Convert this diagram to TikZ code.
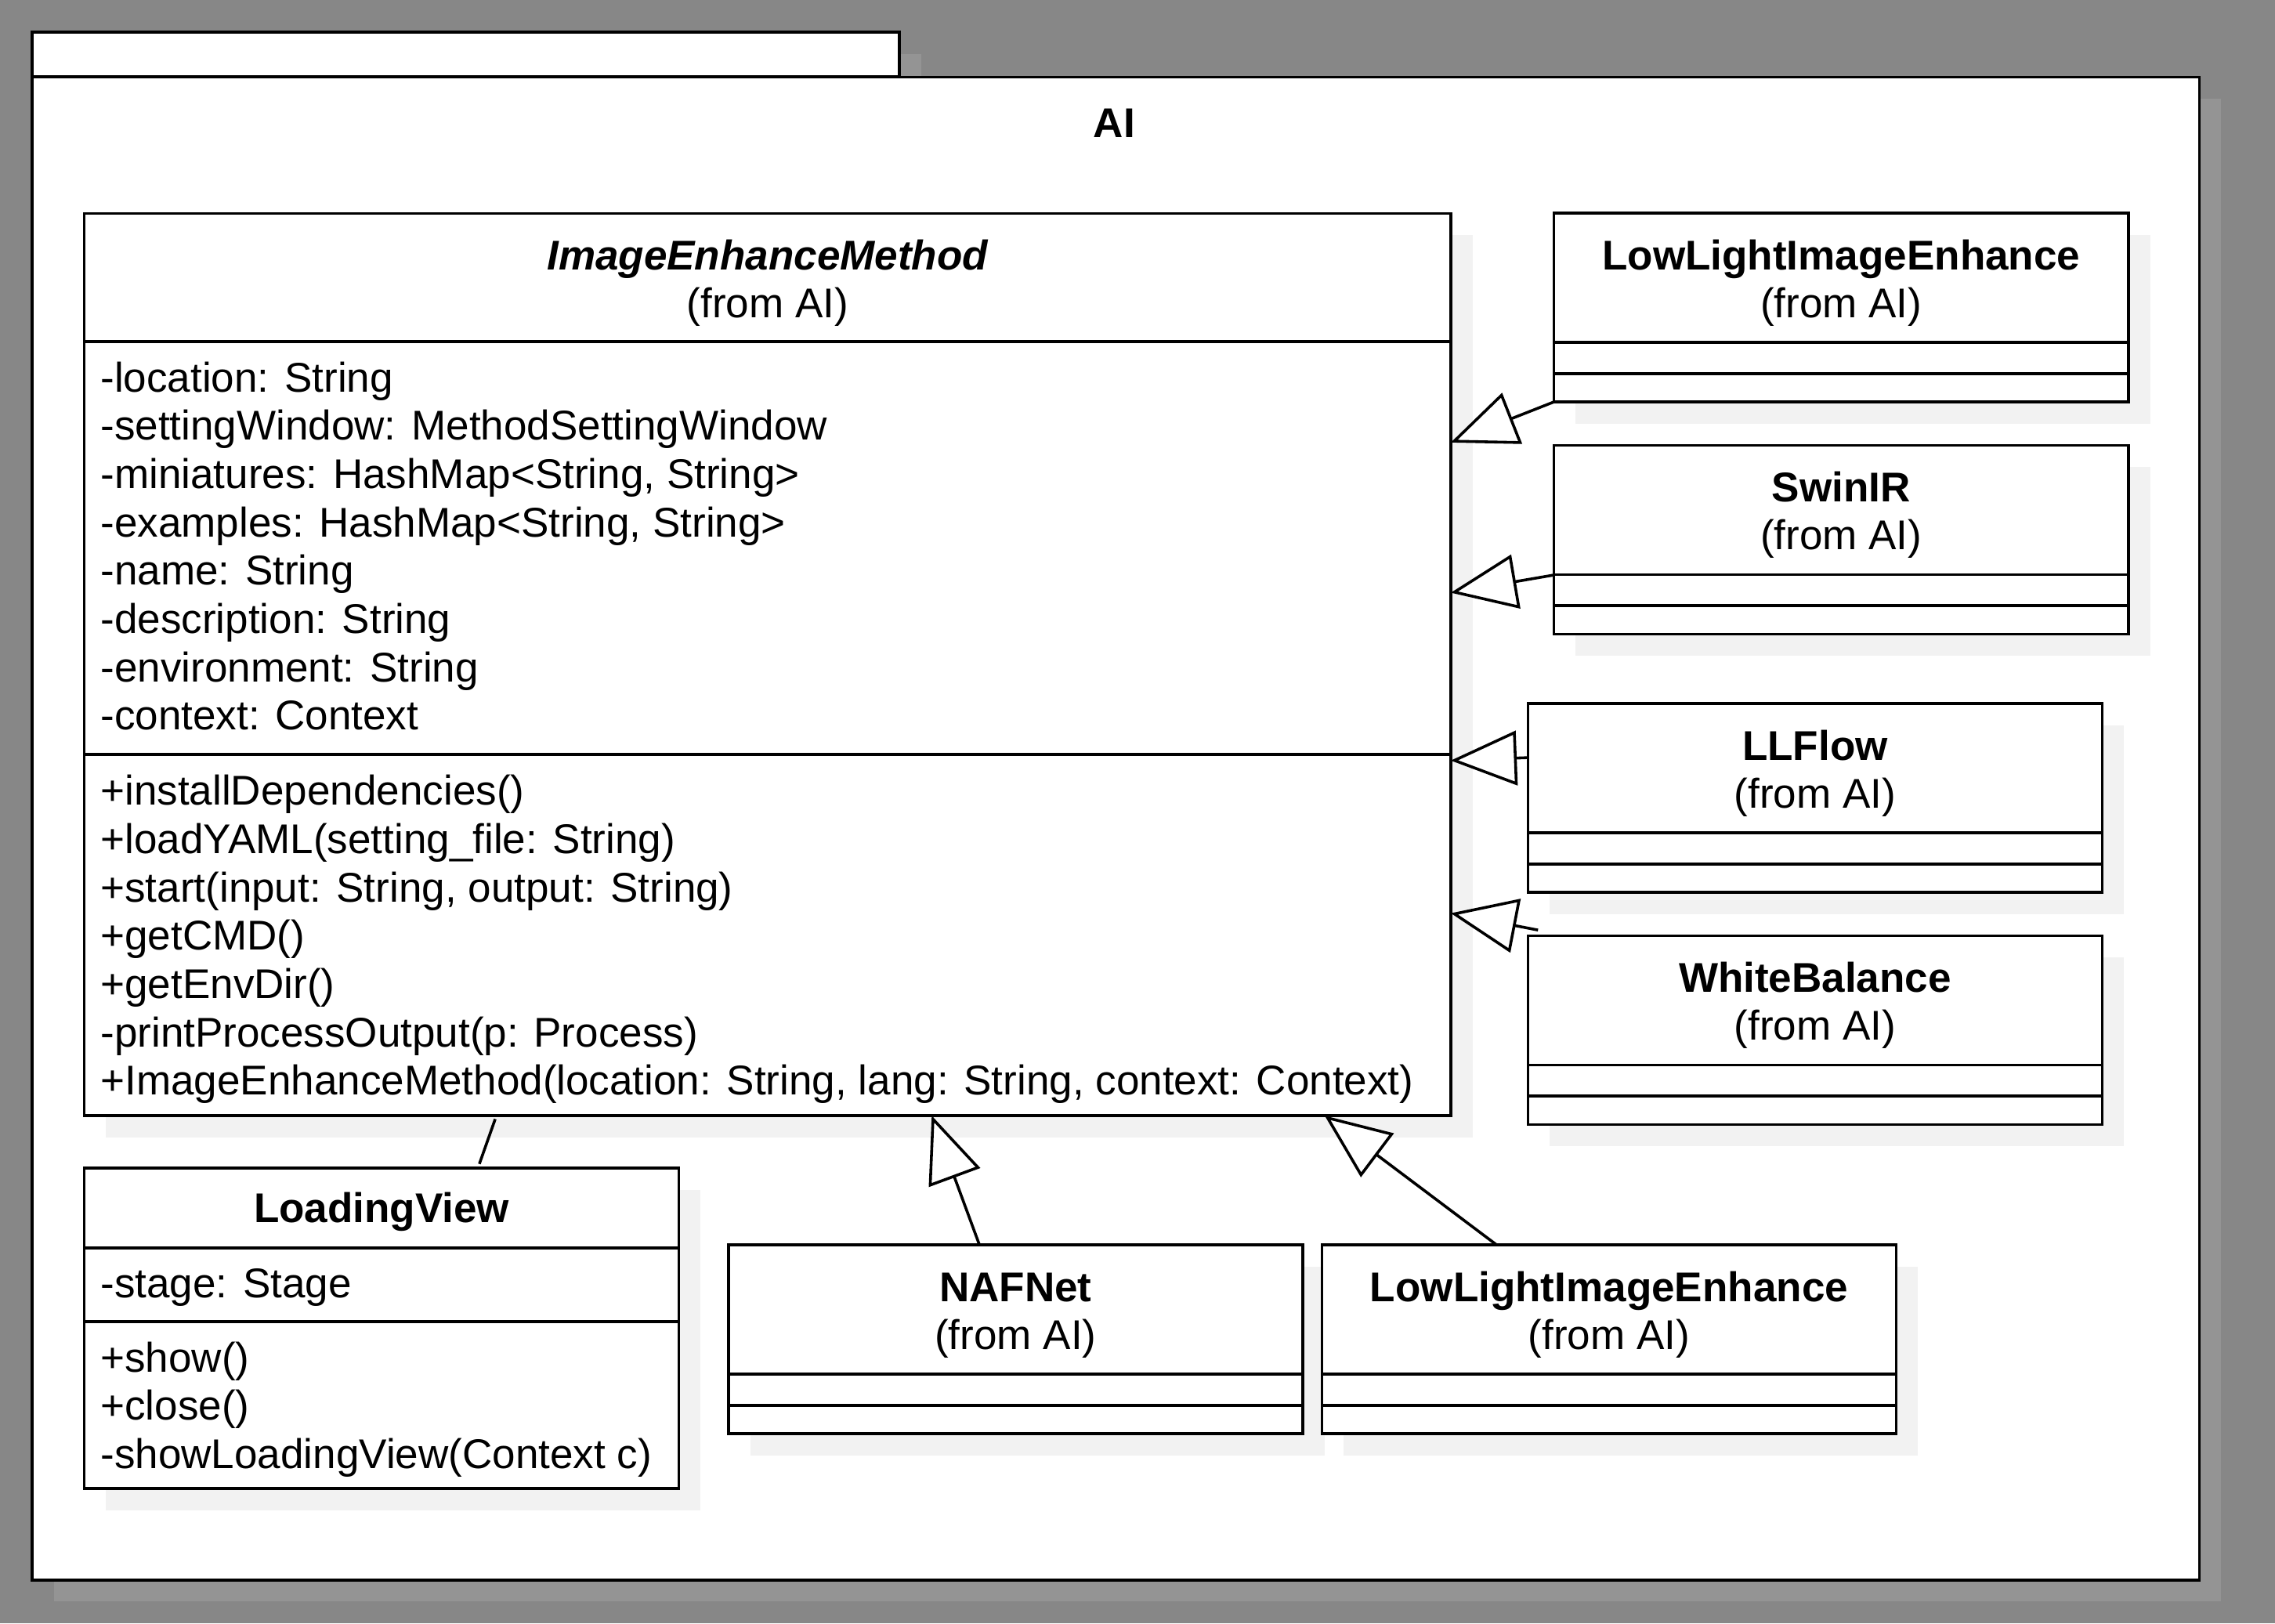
\documentclass[tikz,border=0pt]{standalone}
\usepackage{fontspec}
\setmainfont{Liberation Sans}
\usetikzlibrary{arrows.meta,shadows}

\definecolor{bggray}{HTML}{878787}
\definecolor{pkgshadow}{HTML}{949494}
\definecolor{clsshadow}{HTML}{F2F2F2}
\newcommand{\umlfont}{\fontsize{16.3}{19}\selectfont}

\tikzset{
	uml/.style={line width=1.1pt},
	pkgbox/.style={draw, fill=white, uml, inner sep=0pt, outer sep=0pt,
		drop shadow={shadow xshift=0.3cm, shadow yshift=-0.3cm, fill=pkgshadow, opacity=1}},
	classbox/.style={draw, fill=white, uml, inner sep=0pt, outer sep=0pt,
		drop shadow={shadow xshift=0.3cm, shadow yshift=-0.3cm, fill=clsshadow, opacity=1}},
	smallclass/.style={classbox, minimum width=7.92cm, minimum height=2.6cm},
	clsname/.style={anchor=base, inner sep=0pt, font=\umlfont\bfseries},
	fromtxt/.style={anchor=base, inner sep=0pt, font=\umlfont},
	member/.style={anchor=base west, inner sep=0pt, font=\umlfont},
	gen/.style={uml, -{Triangle[length=0.91cm, width=0.75cm, fill=white]}},
}

\begin{document}
\begin{tikzpicture}[x=0.02cm, y=-0.02cm]
		\useasboundingbox (0,0) rectangle (1568,1119);
		\fill[bggray] (0,0) rectangle (1568,1119);
		
		% package AI
		\node[pkgbox, minimum width=11.96cm, minimum height=0.62cm] (tab) at (321,37.5) {};
		\node[pkgbox, minimum width=29.88cm, minimum height=20.72cm] (pkg) at (769,571) {};
		\node[clsname] (pkgname) at (768,95) {AI};
		
		% abstract class
		\node[classbox, minimum width=18.84cm, minimum height=12.44cm] (iem) at (529,458) {};
		\node[clsname, font=\umlfont\bfseries\itshape] (iemname) at (529,186) {ImageEnhanceMethod};
		\node[fromtxt] (iemfrom) at (529,219) {(from AI)};
		\draw[uml] (58,235.5) -- (1000,235.5);
		\draw[uml] (58,520) -- (1000,520);
		\foreach \t [count=\i from 0] in {{-location: String}, {-settingWindow: MethodSettingWindow},
			{-miniatures: HashMap<String, String>}, {-examples: HashMap<String, String>},
			{-name: String}, {-description: String}, {-environment: String}, {-context: Context}}
			\node[member] (attr\i) at (69,{270+33.3*\i}) {\t};
		\foreach \t [count=\i from 0] in {{+installDependencies()}, {+loadYAML(setting\_file: String)},
			{+start(input: String, output: String)}, {+getCMD()}, {+getEnvDir()},
			{-printProcessOutput(p: Process)},
			{+ImageEnhanceMethod(location: String, lang: String, context: Context)}}
			\node[member] (op\i) at (69,{555+33.3*\i}) {\t};
		
		% subclasses
		\foreach \nm/\cx/\cy/\txt in {llie/1269/212/LowLightImageEnhance, swin/1269/372/SwinIR,
			llflow/1251/550/LLFlow, wb/1251/710/WhiteBalance,
			naf/700/923/NAFNet, llie2/1109/923/LowLightImageEnhance}
		{
			\node[smallclass] (\nm) at (\cx,\cy) {};
			\node[clsname] (\nm name) at (\cx,\cy-26) {\txt};
			\node[fromtxt] (\nm from) at (\cx,\cy+7) {(from AI)};
			\draw[uml] ([yshift=-0.48cm]\nm.west) -- ([yshift=-0.48cm]\nm.east);
			\draw[uml] ([yshift=-0.91cm]\nm.west) -- ([yshift=-0.91cm]\nm.east);
		}
		
		% loading view
		\node[classbox, minimum width=8.2cm, minimum height=4.42cm] (lv) at (263,915.5) {};
		\node[clsname] (lvname) at (263,842.5) {LoadingView};
		\draw[uml] (58,860) -- (468,860);
		\draw[uml] (58,911) -- (468,911);
		\node[member] (lvstage) at (69,894.5) {-stage: Stage};
		\node[member] (lvshow) at (69,945.5) {+show()};
		\node[member] (lvclose) at (69,978.8) {+close()};
		\node[member] (lvload) at (69,1012.1) {-showLoadingView(Context c)};
		
		\draw[uml, shorten <=0.06cm, shorten >=0.05cm] (lv.59.2) -- (iem.239.5);
		
		\path [gen] (llie.south west) edge (iem.18.6);
		\path [gen] (swin.187) edge (iem.6.85);
		\path [gen] (llflow.172.4) edge (iem.352.5);
		\path [gen] ([shift={(7,-4)}]wb.north west) edge (iem.340.8);
		\path [gen] (naf.111) edge (iem.290.2);
		\path [gen] (llie2.140.7) edge (iem.321.4);
		\end{tikzpicture}
\end{document}
